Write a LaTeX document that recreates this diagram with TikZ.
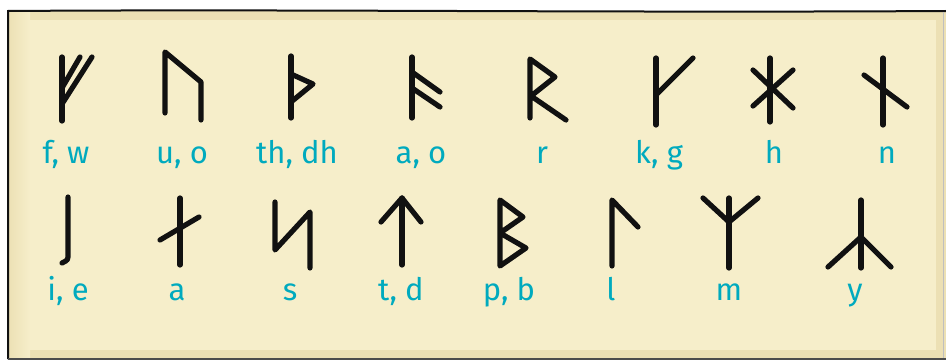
\documentclass[tikz,border=0pt]{standalone}
\usepackage{fontspec}
\setmainfont{Fira Sans}
\definecolor{paper}{RGB}{246,238,202}
\definecolor{paperedge}{RGB}{236,224,180}
\definecolor{teal}{RGB}{0,170,190}
\definecolor{ink}{RGB}{17,17,17}
\begin{document}
\begin{tikzpicture}[x=1pt,y=-1pt,
  rune/.style={draw=ink,line width=5.2pt,line cap=round,line join=round},
  lbl/.style={text=teal,anchor=base,inner sep=0pt,font=\fontsize{31}{36}\selectfont},
  frameline/.style={draw=ink,line width=2pt}]
\useasboundingbox (0,0) rectangle (946,361);
\fill[white] (0,0) rectangle (946,361);
% paper
\fill[paperedge] (8,11) rectangle (946,359);
\fill[paper] (18,20) rectangle (936,350);
\shade[left color=paperedge,right color=paper] (8,11) rectangle (30,359);
\draw[frameline] (8,359) -- (8,11) .. controls (300,9) and (600,13) .. (946,11);
\draw[draw=black!70,line width=2pt] (8,359) -- (946,359);
\draw[draw=black!25,line width=1pt] (943,12) -- (943,358);

% ---- row 1 runes
\draw[rune] (62,57) -- (62,121);
\draw[rune] (62,88) -- (80,57);
\draw[rune] (62,104) -- (92,57);

\draw[rune] (165,113) -- (165,52) -- (201,82) -- (201,120);

\draw[rune] (291,56) -- (291,118);
\draw[rune] (291,74) -- (313,84) -- (291,102);

\draw[rune] (412,57) -- (412,118);
\draw[rune] (412,72) -- (440,92);
\draw[rune] (412,88) -- (440,107);

\draw[rune] (530,118) -- (530,59) -- (555,77) -- (531,96) -- (566,120);

\draw[rune] (656,58) -- (656,125);
\draw[rune] (656,95) -- (693,58);

\draw[rune] (770,58) -- (770,122);
\draw[rune] (753,70) -- (793,108);
\draw[rune] (793,70) -- (753,106);

\draw[rune] (883,58) -- (883,125);
\draw[rune] (864,75) -- (907,107);

% ---- row 2 runes
\draw[rune] (68,197) -- (68,254) .. controls (68,260) .. (62,263);

\draw[rune] (180,198) -- (180,265);
\draw[rune] (160,240) -- (199,217);

\draw[rune] (275,202) -- (275,250) -- (310,212) -- (310,268);

\draw[rune] (402,198) -- (402,265);
\draw[rune] (381,222) -- (402,198) -- (421,222);

\draw[rune] (500,200) -- (500,266) -- (526,248) -- (500,233) -- (523,217) -- cycle;

\draw[rune] (612,266) -- (612,200) -- (638,227);

\draw[rune] (729,198) -- (729,268);
\draw[rune] (703,198) -- (729,222) -- (758,198);

\draw[rune] (861,200) -- (861,268);
\draw[rune] (828,267) -- (861,237) -- (891,267);

% ---- labels row 1
\node[lbl] (l1) at (66,163) {f, w};
\node[lbl] (l2) at (182,163) {u, o};
\node[lbl] (l3) at (297,163) {th, dh};
\node[lbl] (l4) at (421,163) {a, o};
\node[lbl] (l5) at (542,163) {r};
\node[lbl] (l6) at (659,163) {k, g};
\node[lbl] (l7) at (774,163) {h};
\node[lbl] (l8) at (887,163) {n};
% ---- labels row 2
\node[lbl] (m1) at (68,300) {i, e};
\node[lbl] (m2) at (177,300) {a};
\node[lbl] (m3) at (290,300) {s};
\node[lbl] (m4) at (401,300) {t, d};
\node[lbl] (m5) at (509,300) {p, b};
\node[lbl] (m6) at (611,300) {l};
\node[lbl] (m7) at (729,300) {m};
\node[lbl] (m8) at (855,300) {y};
\end{tikzpicture}
\end{document}
